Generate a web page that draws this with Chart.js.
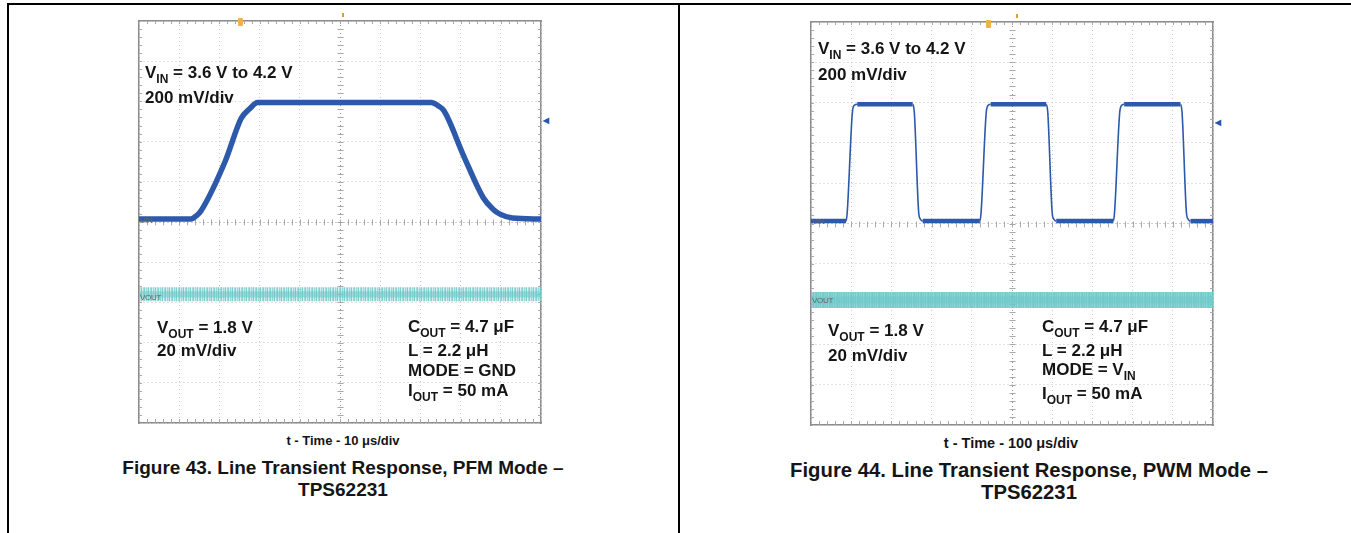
<!DOCTYPE html>
<html>
<head>
<meta charset="utf-8">
<title>Line Transient Response - TPS62231</title>
<script src="https://cdn.jsdelivr.net/npm/chart.js@4.4.1/dist/chart.umd.min.js"></script>
<style>
    html, body { margin: 0; padding: 0; background: #fff; }
    #page {
        position: relative; width: 1351px; height: 533px; overflow: hidden;
        font-family: "Liberation Sans", Arial, Helvetica, sans-serif; font-weight: bold; color: #151515;
    }
    .rule { position: absolute; background: #000; }
    .plot { position: absolute; }
    .note { position: absolute; font-size: 17px; line-height: 17px; white-space: nowrap; }
    .note sub { font-size: 12px; line-height: 0; vertical-align: -5px; }
    .axis { position: absolute; font-size: 13px; white-space: nowrap; text-align: center; width: 300px; }
    .caption { position: absolute; font-size: 19px; line-height: 22px; text-align: center; width: 640px; }
    .tag { position: absolute; font-size: 8px; font-weight: normal; color: #666; letter-spacing: -0.3px; }
    .trig { position: absolute; width: 5px; height: 8px; background: #f0b050; border-radius: 1px; }
    .trig2 { position: absolute; width: 2px; height: 4px; background: #e69a30; }
    .chmark { position: absolute; font-size: 8px; color: #2b57a8; }
</style>
</head>
<body>
<div id="page">
    <div class="rule" style="left:7px; top:3px; width:1344px; height:2px;"></div>
    <div class="rule" style="left:7px; top:3px; width:2px; height:530px;"></div>
    <div class="rule" style="left:678px; top:3px; width:2px; height:530px;"></div>

    <!-- Figure 43 -->
    <div class="plot" style="left:137px; top:11px;"><canvas id="pfmChart" width="414" height="414"></canvas></div>
    <div class="trig" style="left:238px; top:18px;"></div>
    <div class="trig2" style="left:342px; top:13px;"></div>
    <div class="chmark" style="left:543px; top:116px;">&#9664;</div>
    <div class="tag" style="left:140px; top:216px;">VIN</div>
    <div class="tag" style="left:140px; top:293px;">VOUT</div>

    <div class="note" style="left:145px; top:64px;">V<sub>IN</sub> = 3.6 V to 4.2 V</div>
    <div class="note" style="left:145px; top:89px;">200 mV/div</div>
    <div class="note" style="left:157px; top:319px;">V<sub>OUT</sub> = 1.8 V</div>
    <div class="note" style="left:157px; top:342px;">20 mV/div</div>
    <div class="note" style="left:408px; top:318px;">C<sub>OUT</sub> = 4.7 &mu;F</div>
    <div class="note" style="left:408px; top:342px;">L = 2.2 &mu;H</div>
    <div class="note" style="left:408px; top:362px;">MODE = GND</div>
    <div class="note" style="left:408px; top:382px;">I<sub>OUT</sub> = 50 mA</div>

    <div class="axis" style="left:193px; top:433px;">t - Time - 10 &mu;s/div</div>
    <div class="caption" style="left:23px; top:457px;">Figure 43. Line Transient Response, PFM Mode &ndash;<br>TPS62231</div>

    <!-- Figure 44 -->
    <div class="plot" style="left:809px; top:12px;"><canvas id="pwmChart" width="414" height="415"></canvas></div>
    <div class="trig" style="left:986px; top:20px;"></div>
    <div class="trig2" style="left:1016px; top:14px;"></div>
    <div class="chmark" style="left:1215px; top:118px;">&#9664;</div>
    <div class="tag" style="left:812px; top:217px;">VIN</div>
    <div class="tag" style="left:812px; top:296px;">VOUT</div>

    <div class="note" style="left:818px; top:40px;">V<sub>IN</sub> = 3.6 V to 4.2 V</div>
    <div class="note" style="left:818px; top:66px;">200 mV/div</div>
    <div class="note" style="left:828px; top:322px;">V<sub>OUT</sub> = 1.8 V</div>
    <div class="note" style="left:828px; top:347px;">20 mV/div</div>
    <div class="note" style="left:1042px; top:318px;">C<sub>OUT</sub> = 4.7 &mu;F</div>
    <div class="note" style="left:1042px; top:342px;">L = 2.2 &mu;H</div>
    <div class="note" style="left:1042px; top:361px;">MODE = V<sub>IN</sub></div>
    <div class="note" style="left:1042px; top:385px;">I<sub>OUT</sub> = 50 mA</div>

    <div class="axis" style="left:861px; top:435px; font-size:14.5px;">t - Time - 100 &mu;s/div</div>
    <div class="caption" style="left:709px; top:459px; font-size:20.3px;">Figure 44. Line Transient Response, PWM Mode &ndash;<br>TPS62231</div>
</div>

<script>
// Figure 43, PFM mode: time in us (10 us/div), VIN in V (200 mV/div)
const pfmTime = [0, 12.9, 14.2, 15.4, 21.5, 25.4, 27.6, 29.5, 72.7, 74.3, 75.9, 80.7, 85.6, 88.0, 89.8, 92.9, 100];
const pfmVin  = [3.60, 3.60, 3.615, 3.64, 3.89, 4.10, 4.15, 4.18, 4.18, 4.165, 4.137, 3.917, 3.707, 3.65, 3.624, 3.605, 3.60];
// VOUT in V (20 mV/div)
const pfmVoutTime = [0, 100];
const pfmVout = [1.80, 1.80];

// Figure 44, PWM mode: time in us (100 us/div)
const pwmTime = [0, 87, 90, 103, 108, 115, 253, 257, 268, 272, 278,
                 420, 423, 436, 441, 447, 585, 589, 600, 604, 610,
                 752, 755, 768, 773, 779, 919, 923, 934, 938, 944, 1000];
const pwmVin  = [3.60, 3.60, 3.64, 4.14, 4.175, 4.18, 4.18, 4.14, 3.64, 3.61, 3.60,
                 3.60, 3.64, 4.14, 4.175, 4.18, 4.18, 4.14, 3.64, 3.61, 3.60,
                 3.60, 3.64, 4.14, 4.175, 4.18, 4.18, 4.14, 3.64, 3.61, 3.60, 3.60];
const pwmVoutTime = [0, 1000];
const pwmVout = [1.80, 1.80];

// screen ranges (10 divisions each)
const pfmVinRange  = [2.585, 4.585];
const pfmVoutRange = [1.7360, 1.9360];
const pwmVinRange  = [2.588, 4.588];
const pwmVoutRange = [1.7380, 1.9380];

const vinColor = '#2c59aa';
const gridColor = '#c4c4c4';
const frameColor = '#8c8c8c';

function toPoints(xs, ys) {
    return xs.map((x, i) => ({ x: x, y: ys[i] }));
}

// striped teal texture to look like the noisy VOUT trace
function noiseStripes(stripes) {
    const c = document.createElement('canvas');
    c.width = stripes.length; c.height = 1;
    const g = c.getContext('2d');
    stripes.forEach((a, i) => {
        g.fillStyle = `rgba(110, 200, 200, ${a})`;
        g.fillRect(i, 0, 1, 1);
    });
    return g.createPattern(c, 'repeat');
}

// minor ticks on the centre cross and on the frame, like a scope graticule
const graticule = {
    id: 'graticule',
    beforeDatasetsDraw(chart) {
        const { ctx, chartArea: a, scales } = chart;
        const x = scales.x, y = scales.y;
        const cx = Math.round(x.getPixelForValue((x.min + x.max) / 2)) + 0.5;
        const cy = Math.round(y.getPixelForValue(5)) + 0.5;
        ctx.save();
        ctx.strokeStyle = '#a8a8a8';
        ctx.lineWidth = 1;
        ctx.beginPath();
        for (let i = 1; i < 50; i++) {
            const px = Math.round(x.getPixelForValue(x.min + (x.max - x.min) * i / 50)) + 0.5;
            ctx.moveTo(px, cy - 3); ctx.lineTo(px, cy + 3);
            ctx.moveTo(px, a.bottom); ctx.lineTo(px, a.bottom - 4);
            ctx.moveTo(px, a.top); ctx.lineTo(px, a.top + 3);
            const py = Math.round(y.getPixelForValue(10 * i / 50)) + 0.5;
            ctx.moveTo(cx - 3, py); ctx.lineTo(cx + 3, py);
            ctx.moveTo(a.left, py); ctx.lineTo(a.left + 3, py);
            ctx.moveTo(a.right, py); ctx.lineTo(a.right - 3, py);
        }
        ctx.stroke();
        ctx.restore();
    }
};

function scopeChart(canvasId, opts) {
    const span = opts.tMax;
    const frameAxis = (position) => ({
        type: 'linear', position: position, min: 0, max: 10,
        ticks: { display: false }, grid: { display: false },
        border: { display: true, color: frameColor, width: 1.5 }
    });
    return new Chart(document.getElementById(canvasId), {
        type: 'line',
        data: {
            datasets: [
                {
                    data: toPoints(opts.voutTime, opts.vout), yAxisID: 'yVout',
                    borderColor: opts.voutTexture, borderWidth: opts.voutWidth,
                    pointRadius: 0, borderCapStyle: 'butt'
                },
                {
                    data: toPoints(opts.voutTime, opts.vout), yAxisID: 'yVout',
                    borderColor: 'rgba(110, 200, 200, 0.55)', borderWidth: opts.voutWidth * 0.45,
                    pointRadius: 0
                },
                {
                    data: toPoints(opts.time, opts.vin), yAxisID: 'yVin',
                    borderColor: vinColor, borderWidth: opts.vinWidth,
                    pointRadius: 0, cubicInterpolationMode: 'monotone', borderJoinStyle: 'round',
                    segment: opts.segment
                }
            ]
        },
        options: {
            responsive: false,
            animation: false,
            layout: { padding: 2 },
            plugins: { legend: { display: false }, tooltip: { enabled: false } },
            scales: {
                x: {
                    type: 'linear', min: 0, max: span,
                    ticks: { display: false, stepSize: span / 10 },
                    grid: {
                        drawTicks: false,
                        color: (c) => (c.tick && c.tick.value === span / 2 ? '#9a9a9a' : gridColor)
                    },
                    border: { display: true, color: frameColor, width: 1.5, dash: [1, 3] }
                },
                y: {
                    type: 'linear', min: 0, max: 10,
                    ticks: { display: false, stepSize: 1 },
                    grid: {
                        drawTicks: false,
                        color: (c) => (c.tick && c.tick.value === 5 ? '#9a9a9a' : gridColor)
                    },
                    border: { display: true, color: frameColor, width: 1.5, dash: [1, 3] }
                },
                xTop: frameAxis('top'),
                yRight: frameAxis('right'),
                yVin: { type: 'linear', display: false, min: opts.vinRange[0], max: opts.vinRange[1] },
                yVout: { type: 'linear', display: false, min: opts.voutRange[0], max: opts.voutRange[1] }
            }
        },
        plugins: [graticule]
    });
}

document.addEventListener('DOMContentLoaded', () => {
    scopeChart('pfmChart', {
        tMax: 100,
        time: pfmTime, vin: pfmVin, vinRange: pfmVinRange, vinWidth: 5.5,
        voutTime: pfmVoutTime, vout: pfmVout, voutRange: pfmVoutRange, voutWidth: 14,
        voutTexture: noiseStripes([0.85, 0.3, 0.7, 0.45, 0.9, 0.25, 0.65])
    });

    scopeChart('pwmChart', {
        tMax: 1000,
        time: pwmTime, vin: pwmVin, vinRange: pwmVinRange, vinWidth: 4,
        // flat parts of the square wave look thick, the edges thin
        segment: { borderWidth: (c) => (c.p0.parsed.y === c.p1.parsed.y ? 4.5 : 1.6) },
        voutTime: pwmVoutTime, vout: pwmVout, voutRange: pwmVoutRange, voutWidth: 16,
        voutTexture: noiseStripes([0.95, 0.85, 0.9, 0.8, 0.95, 0.75, 0.9])
    });
});
</script>
</body>
</html>
